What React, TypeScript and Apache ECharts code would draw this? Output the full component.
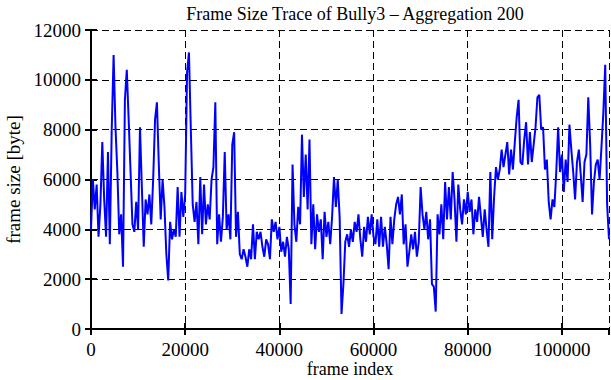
import React, { useEffect, useRef } from "react";
import * as echarts from "echarts";

const TITLE = "Frame Size Trace of Bully3 – Aggregation 200";
const X_NAME = "frame index";
const Y_NAME = "frame size [byte]";
const BIN_STEP = 400;
const X_MAX = 110000;
const X_INTERVAL = 20000;
const Y_MAX = 12000;
const Y_INTERVAL = 2000;

// frame size (byte) per aggregated bin
const framesA = [
  4000, 6000, 4800, 5800, 3700, 5000, 7500, 5200, 3700, 7100,
  3400, 8000, 11000, 8100, 6300, 3800, 4600, 2500, 9200, 10400,
  8400, 6300, 4200, 3900, 5100, 4000, 8100, 5700, 3300, 5200,
  4600, 5400, 4200, 6000, 8400, 9100, 6600, 4400, 6000, 4900,
  3000, 1950, 4300, 3600, 4000, 3700, 5700,
];
const framesB = [
  3700, 5500, 4500, 5400, 10300, 11100, 8000, 5000, 4300, 5100,
  3400, 6100, 3800, 5800, 4200, 5000, 4400, 6000, 6500, 9100,
  3400, 4600, 3500, 4500, 7100, 4000, 4600, 3600, 7400, 7900,
  3700, 4700, 3000, 2800, 3200, 2900, 2500, 3200, 2800, 4200,
  2800, 3900, 3600, 3900, 3300, 2900, 3600,
];
const framesC = [
  3400, 2800, 4400, 3900, 4300, 3600, 4100, 3100, 3500, 2900,
  3700, 3200, 1000, 6600, 4200, 3500, 4900, 4200, 7800, 5300,
  7000, 4800, 7600, 3400, 5000, 3200, 4600, 3900, 4400, 2800,
  4700, 3700, 4300, 3400, 4500, 6100, 4900, 6000, 4500, 600,
  1800, 3500, 3800, 3300, 4000, 3500, 4300, 3900,
];
const framesD = [
  4600, 3600, 2900, 4100, 3500, 4500, 3800, 4600, 3700, 3400,
  4400, 3300, 4500, 3300, 4100, 3400, 2400, 4500, 3400, 4400,
  5000, 5300, 4600, 5400, 3400, 4200, 2500, 3100, 3800, 3200,
  3900, 2900, 3500, 5700, 4600, 4000, 4700, 3600, 4400, 1800,
  1700, 700, 4600, 3800, 5000, 3600, 5900, 4400,
];
const framesE = [
  5700, 4400, 6300, 5200, 3500, 5800, 4800, 4200, 5200, 4600,
  5500, 4700, 5200, 3800, 4800, 4300, 5300, 4500, 3700, 4800,
  4000, 3300, 6300, 3600, 5300, 6500, 6000, 6400, 7200, 6500,
  7000, 7500, 6200, 7200, 6400, 7500, 8500, 9200, 6700, 6600,
  7600, 8300, 6600, 7900, 6700, 7400, 8100, 9300,
];
const framesF = [
  9400, 8000, 8100, 6400, 6800, 5100, 4400, 5200, 4900, 6300,
  8100, 6300, 7000, 5500, 6800, 5900, 8200, 7200, 6300, 5200,
  6700, 7200, 6200, 5100, 6700, 7000, 9300, 7400, 4600, 5900,
  6600, 6800, 6000, 7300, 8700, 10600, 5000, 3600,
];
const frameSizes = [...framesA, ...framesB, ...framesC, ...framesD, ...framesE, ...framesF];

export default function App() {
  const ref = useRef<HTMLDivElement>(null);
  useEffect(() => {
    const chart = echarts.init(ref.current!, null, { renderer: "svg" });
    const font = '"Liberation Serif", "Times New Roman", serif';
    const data = frameSizes.map((v, i) => [i * BIN_STEP, v]);
    const axisLine = { show: true, lineStyle: { color: "#000", width: 2 } };
    const axisTick = { show: true, inside: true, length: 6, lineStyle: { color: "#000", width: 2 } };
    const split = { show: true, lineStyle: { color: "#000", width: 1, type: [7, 4] } };
    const label = { color: "#000", fontFamily: font, fontSize: 19 };
    const plain = (v: number) => String(v);
    chart.setOption({
      animation: false,
      title: {
        text: TITLE,
        left: 350,
        top: 0,
        textAlign: "center",
        textStyle: { fontFamily: font, fontSize: 18, fontWeight: "normal", color: "#000" },
      },
      graphic: [
        {
          type: "text",
          x: 350,
          y: 369,
          style: {
            text: X_NAME,
            fill: "#000",
            font: `18px ${font}`,
            lineHeight: 18,
            align: "center",
            verticalAlign: "middle",
          },
        },
      ],
      grid: { left: 91, right: 2, top: 30, bottom: 51, outerBoundsMode: "none", containLabel: false },
      xAxis: [
        {
          type: "value", min: 0, max: X_MAX, interval: X_INTERVAL, position: "bottom",
          axisLine, axisTick,
          axisLabel: { ...label, lineHeight: 17, margin: 12, showMaxLabel: false, formatter: plain },
          splitLine: split,
        },
        {
          type: "value", min: 0, max: X_MAX, interval: X_INTERVAL, position: "top",
          axisLine, axisTick, axisLabel: { show: false }, splitLine: { show: false },
        },
      ],
      yAxis: [
        {
          type: "value", min: 0, max: Y_MAX, interval: Y_INTERVAL, position: "left",
          name: Y_NAME, nameLocation: "middle", nameGap: 68,
          nameTextStyle: { ...label, lineHeight: 19 },
          axisLine, axisTick,
          axisLabel: { ...label, margin: 10, formatter: plain },
          splitLine: split,
        },
        {
          type: "value", min: 0, max: Y_MAX, interval: Y_INTERVAL, position: "right",
          axisLine, axisTick, axisLabel: { show: false }, splitLine: { show: false },
        },
      ],
      series: [
        {
          type: "line",
          data,
          xAxisIndex: 0,
          yAxisIndex: 0,
          symbol: "none",
          showSymbol: false,
          lineStyle: { color: "#0000ff", width: 2 },
        },
      ],
    });
    return () => chart.dispose();
  }, []);
  return (
    <div
      ref={ref}
      style={{ position: "fixed", left: 0, top: 0, width: 611, height: 380, background: "#fff" }}
    />
  );
}
